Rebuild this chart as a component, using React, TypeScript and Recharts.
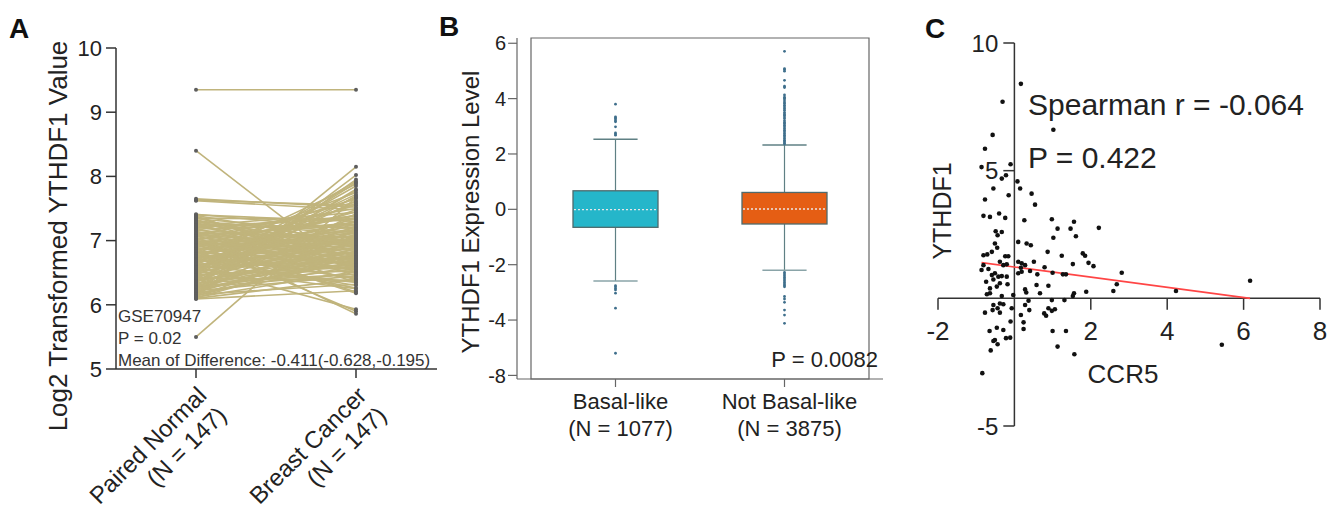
import React from 'react';
import {
  LineChart, Line, XAxis, YAxis, ComposedChart, Bar, ScatterChart, Scatter, ReferenceLine, ReferenceArea,
} from 'recharts';

// ---------- Panel A data ----------
const catsA = ['Paired Normal', 'Breast Cancer'];
const nLabelsA = ['(N = 147)', '(N = 147)'];
const ticksA = [5, 6, 7, 8, 9, 10];
const normalA = [9.35,8.40,7.65,7.63,7.62,5.50,7.05,6.95,6.60,
  6.12,6.15,6.20,6.35,6.50,6.45,6.30,6.70,6.80,6.25,6.55,6.90,6.40,7.00,6.65,6.85,7.10,6.75,6.18,6.95,7.20,6.60,7.35,7.40,
  7.38,7.32,7.30,7.28,7.25,7.22,7.18,7.15,7.12,7.08,7.06,7.02,7.00,6.98,6.96,6.94,6.92,6.90,6.88,6.86,6.84,6.82,6.80,6.78,6.76,6.74,6.72,6.70,6.68,6.66,6.64,6.62,6.60,6.58,6.56,6.54,6.52,6.50,6.48,6.46,6.44,6.42,6.40,6.38,6.36,6.34,6.32,6.30,6.28,6.26,6.24,6.22,6.20,6.18,6.16,6.14,6.12,6.10,6.09,
  7.39,7.36,7.34,7.31,7.27,7.24,7.21,7.19,7.16,7.13,7.11,7.09,7.07,7.04,7.01,6.99,6.97,6.93,6.91,6.89,6.87,6.83,6.81,6.79,6.77,6.73,6.71,6.69,6.67,6.63,6.61,6.59,6.57,6.53,6.51,6.47,6.43,6.39,6.37,6.33,6.29,6.27,6.23,6.21,6.17,6.13,6.11,
  7.41,7.37,7.29,7.23,6.99,6.76,6.52,6.35];
const cancerA = [9.35,6.48,7.52,7.55,7.48,7.67,5.86,5.90,5.93,
  8.15,8.02,7.95,7.90,7.92,7.85,7.80,7.88,7.75,7.70,7.72,7.65,7.62,7.60,7.58,7.55,7.50,7.45,7.42,7.40,7.38,7.35,7.33,7.30,
  6.55,6.90,7.10,6.45,7.20,6.80,7.25,6.35,7.05,6.95,7.28,6.60,6.20,7.15,6.85,7.00,6.50,7.22,6.75,7.12,6.40,6.98,7.08,6.65,7.30,6.88,6.30,7.02,6.72,7.18,6.58,6.92,7.26,6.68,6.25,7.06,6.82,6.52,7.14,6.62,6.95,6.38,7.04,6.70,6.87,6.48,7.10,6.78,6.56,6.99,6.66,6.45,6.84,6.60,6.32,6.74,6.52,6.40,6.22,
  6.97,6.70,7.12,6.62,6.90,6.76,7.34,6.58,7.00,6.86,6.68,7.24,6.52,6.92,7.36,6.64,7.06,6.80,7.16,6.55,6.96,7.40,6.70,7.08,6.42,6.94,7.20,6.60,6.82,7.48,6.35,7.02,6.74,7.30,6.90,6.58,7.13,6.78,7.22,6.64,6.98,6.48,7.06,6.88,6.68,7.00,6.80,
  7.18,6.62,6.95,7.44,6.18,6.26,7.68,7.78];

// ---------- Panel B data ----------
const catsB = ['Basal-like', 'Not Basal-like'];
const nLabelsB = ['(N = 1077)', '(N = 3875)'];
const q1B = [-0.65, -0.53];
const medianB = [-0.01, 0.01];
const q3B = [0.67, 0.61];
const whiskerLowB = [-2.59, -2.20];
const whiskerHighB = [2.53, 2.32];
const outliersBasal = [3.80, 3.34, 3.30, 3.26, 3.20, 3.16, 2.98, 2.76, 2.72, 2.68, -2.76, -2.80, -2.86, -2.91, -3.03, -3.57, -5.20];
const outliersNotBasal = [5.71, 5.08, 5.05, 4.99, 4.66, 4.45, 4.40, 4.13, 4.05, 4.01, 3.95, 3.88, 3.83, 3.76, 3.70, 3.64, 3.58, 3.50, 3.44, 3.40, 3.34, 3.28, 3.20, 3.14, 3.10, 3.04, 2.98, 2.92, 2.86, 2.80, 2.74, 2.68, 2.62, 2.56, 2.50, 2.45, 2.40, 2.36,
  -2.28, -2.34, -2.40, -2.46, -2.52, -2.58, -2.64, -2.70, -2.75, -2.80, -3.15, -3.24, -3.36, -3.64, -3.82, -4.12];
const outliersB = [outliersBasal, outliersNotBasal];
const ticksB = [-6, -4, -2, 0, 2, 4, 6];
const tickLabelsB = ['-8', '-4', '-2', '0', '2', '4', '6'];
const colorsB = ['#25B6CA', '#E55E14'];

// ---------- Panel C data ----------
const xsC = [0.17,-0.31,1.02,-0.57,-0.77,-0.86,-0.10,-0.22,-0.33,0.08,-0.55,0.15,0.45,-0.77,-0.15,0.54,-0.81,-0.64,-0.40,-0.24,0.26,0.98,1.56,1.13,1.47,2.21,-0.49,-0.44,-0.33,1.02,1.61,0.10,0.32,0.43,-0.51,0.87,-0.71,-0.59,-0.45,-0.24,-0.16,1.24,1.79,1.85,-0.81,-0.38,-0.29,-0.20,0.10,0.19,0.28,0.17,0.10,0.19,0.51,0.79,1.00,1.53,1.94,2.07,-0.81,-0.86,-0.68,-0.59,-0.51,-0.42,-0.33,-0.20,-0.55,-0.74,0.41,0.60,1.27,1.35,2.81,0.89,0.58,2.68,6.17,-0.64,-0.46,-0.38,-0.18,0.28,0.67,1.88,2.59,4.23,1.56,1.53,-0.72,-0.64,-0.33,-0.03,0.31,0.98,1.31,0.37,-0.55,-0.38,-0.44,-0.29,-0.77,-0.57,-0.38,-0.07,0.28,0.39,0.17,0.89,0.98,1.06,0.78,0.83,-0.10,0.24,0.24,-0.46,-0.65,-0.29,-0.11,-0.22,-0.51,-0.44,-0.55,1.00,1.35,-0.62,1.13,1.57,5.43,-0.84];
const ysC = [8.40,7.70,6.60,6.40,5.86,5.14,5.25,4.82,4.69,4.58,4.30,4.30,4.10,3.87,4.04,3.67,3.23,3.19,3.32,3.15,3.06,3.10,3.00,2.73,2.73,2.76,2.63,2.47,2.60,2.37,2.43,2.21,2.15,2.08,2.15,1.82,1.72,1.82,1.98,1.65,1.65,1.67,1.76,1.67,1.69,1.43,1.30,1.33,1.43,1.37,1.30,1.20,0.98,1.04,1.43,1.22,1.00,1.34,1.39,1.26,1.30,1.11,1.15,0.91,0.98,0.85,0.87,0.85,0.74,0.65,1.07,0.94,0.94,0.94,1.00,0.49,0.52,0.55,0.69,0.39,0.46,0.59,0.55,0.35,0.20,0.26,0.29,0.29,0.20,0.09,0.16,0.20,0.09,0.13,0.23,-0.07,-0.07,-0.09,-0.26,-0.20,-0.39,-0.23,-0.56,-0.46,-0.56,-0.39,-0.26,-0.46,-0.65,-0.39,-0.49,-0.43,-0.59,-0.68,-0.91,-0.94,-1.20,-1.15,-1.28,-1.24,-1.54,-1.56,-1.63,-1.80,-1.67,-1.28,-1.28,-2.04,-1.89,-2.19,-1.82,-2.93];
const fitXC = [-0.86, 6.17];
const fitYC = [1.40, 0.0];
const yTicksC = [10, 5, -5];
const xTicksC = [-2, 2, 4, 6, 8];

const FONT = 'Liberation Sans, Arial, Helvetica, sans-serif';
const W = 1338;
const H = 508;

const dataA = catsA.map((c, ci) => {
  const row: any = { cat: c };
  const src = ci === 0 ? normalA : cancerA;
  const n = Math.min(normalA.length, cancerA.length);
  for (let i = 0; i < n; i++) row['p' + i] = src[i];
  return row;
});
const pairCount = Math.min(normalA.length, cancerA.length);

const dataB = catsB.map((c, i) => ({
  cat: c, box: [q1B[i], q3B[i]], q1: q1B[i], q3: q3B[i], med: medianB[i], lo: whiskerLowB[i], hi: whiskerHighB[i], out: outliersB[i], idx: i,
}));

const dataC = xsC.map((x, i) => ({ x, y: ysC[i] }));

const TickA = (props: any) => {
  const { x, y, payload } = props;
  const i = catsA.indexOf(payload.value);
  return (
    <g transform={`translate(${x + 12},${y + 17})`}>
      <text transform="rotate(-45)" textAnchor="end" fontSize={24} fill="#222" fontFamily={FONT}>
        <tspan x={0} dy={0}>{catsA[i]}</tspan>
        <tspan x={0} dy={28}>{nLabelsA[i]}</tspan>
      </text>
    </g>
  );
};

const TickB = (props: any) => {
  const { x, y, payload } = props;
  const i = catsB.indexOf(payload.value);
  return (
    <text textAnchor="middle" fontSize={22} fill="#222" fontFamily={FONT}>
      <tspan x={x + 5} y={y + 20}>{catsB[i]}</tspan>
      <tspan x={x + 5} y={y + 47}>{nLabelsB[i]}</tspan>
    </text>
  );
};

const BoxShape = (props: any) => {
  const { x, y, width, height, payload } = props;
  const top = Math.min(y, y + height);
  const h = Math.abs(height);
  const pxPerUnit = h / (payload.q3 - payload.q1);
  const toY = (v: number) => top + (payload.q3 - v) * pxPerUnit;
  const cx = x + width / 2;
  const cap = width * 0.26;
  const color = colorsB[payload.idx];
  return (
    <g>
      <line x1={cx} x2={cx} y1={toY(payload.hi)} y2={toY(payload.q3)} stroke="#5f8084" strokeWidth={1.2} />
      <line x1={cx} x2={cx} y1={toY(payload.q1)} y2={toY(payload.lo)} stroke="#5f8084" strokeWidth={1.2} />
      <line x1={cx - cap} x2={cx + cap} y1={toY(payload.hi)} y2={toY(payload.hi)} stroke="#5f8084" strokeWidth={1.5} />
      <line x1={cx - cap} x2={cx + cap} y1={toY(payload.lo)} y2={toY(payload.lo)} stroke="#8aa4a8" strokeWidth={1.5} />
      <rect x={x} y={top} width={width} height={h} fill={color} stroke="#4f6a6c" strokeWidth={1.3} />
      <line x1={x + 1} x2={x + width - 1} y1={toY(payload.med)} y2={toY(payload.med)} stroke="#e8e8e8" strokeWidth={1.4} strokeDasharray="2 2" />
      {payload.out.map((v: number, k: number) => (
        <circle key={k} cx={cx} cy={toY(v)} r={1.4} fill="#3f6f8c" />
      ))}
    </g>
  );
};

const DotC = (props: any) => <circle cx={props.cx} cy={props.cy} r={2.3} fill="#111" />;

export default function App() {
  return (
    <div style={{ position: 'absolute', left: 0, top: 0, width: W, height: H, background: '#fff', fontFamily: FONT }}>
      {/* Panel A */}
      <div style={{ position: 'absolute', left: 0, top: 0 }}>
        <LineChart width={W} height={H} data={dataA} margin={{ top: 48, right: W - 437, bottom: H - 369 - 60, left: 116 - 60 }}>
          <XAxis dataKey="cat" height={60} padding={{ left: 80, right: 81 }} interval={0} tickSize={9}
            axisLine={{ stroke: '#333', strokeWidth: 1.5 }} tickLine={{ stroke: '#333', strokeWidth: 1.5 }} tick={<TickA />} />
          <YAxis width={60} domain={[5, 10]} ticks={ticksA} tickSize={10} tickMargin={4}
            axisLine={{ stroke: '#333', strokeWidth: 1.5 }} tickLine={{ stroke: '#333', strokeWidth: 1.5 }}
            tick={{ fontSize: 22, fill: '#222', fontFamily: FONT }} />
          {Array.from({ length: pairCount }, (_, i) => (
            <Line key={i} dataKey={'p' + i} stroke="#C0B47C" strokeWidth={1.6}
              dot={{ r: 2, fill: '#5e5e5e', stroke: 'none' }} activeDot={false} isAnimationActive={false} />
          ))}
        </LineChart>
      </div>

      {/* Panel B */}
      <div style={{ position: 'absolute', left: 0, top: 0 }}>
        <ComposedChart width={W} height={H} data={dataB} margin={{ top: 38, right: W - 883, bottom: H - 379 - 60, left: 517 - 60 }}>
          <XAxis dataKey="cat" height={60} padding={{ left: 14, right: 14 }} interval={0} tickSize={8}
            axisLine={{ stroke: '#666', strokeWidth: 1.2 }} tickLine={{ stroke: '#666', strokeWidth: 1.2 }} tick={<TickB />} />
          <YAxis width={60} domain={[-6.13, 6.19]} ticks={ticksB} allowDataOverflow tickSize={9}
            tickFormatter={(v: number) => tickLabelsB[ticksB.indexOf(v)]}
            axisLine={{ stroke: '#666', strokeWidth: 1.2 }} tickLine={{ stroke: '#666', strokeWidth: 1.2 }}
            tick={{ fontSize: 20, fill: '#222', fontFamily: FONT }} />
          <ReferenceArea y1={-6.13} y2={6.19} fill="none" fillOpacity={0} stroke="#666" strokeWidth={1.2} ifOverflow="visible" />
          <Bar dataKey="box" barSize={85} shape={<BoxShape />} isAnimationActive={false} />
        </ComposedChart>
      </div>

      {/* Panel C */}
      <div style={{ position: 'absolute', left: 0, top: 0 }}>
        <ScatterChart width={W} height={H} margin={{ top: 43, right: W - 1320, bottom: H - 426, left: 938 }}>
          <XAxis type="number" dataKey="x" domain={[-2, 8]} hide />
          <YAxis type="number" dataKey="y" domain={[-5, 10]} hide />
          <ReferenceLine x={0} stroke="#333" strokeWidth={1.5} ifOverflow="visible" />
          <ReferenceLine y={0} stroke="#333" strokeWidth={1.5} ifOverflow="visible" />
          {yTicksC.map((t) => (
            <ReferenceLine key={'yt' + t} segment={[{ x: -0.29, y: t }, { x: 0, y: t }]} stroke="#333" strokeWidth={1.5} ifOverflow="visible"
              label={{ value: String(t), position: 'left', offset: 5, fontSize: 24, fill: '#222', fontFamily: FONT }} />
          ))}
          {xTicksC.map((t) => (
            <ReferenceLine key={'xt' + t} segment={[{ x: t, y: 0 }, { x: t, y: -0.45 }]} stroke="#333" strokeWidth={1.5} ifOverflow="visible"
              label={{ value: String(t), position: 'bottom', offset: 12, fontSize: 26, fill: '#222', fontFamily: FONT }} />
          ))}
          <Scatter data={dataC} shape={<DotC />} isAnimationActive={false} />
          <ReferenceLine segment={[{ x: fitXC[0], y: fitYC[0] }, { x: fitXC[1], y: fitYC[1] }]} stroke="#FF4545" strokeWidth={1.6} ifOverflow="visible" />
        </ScatterChart>
      </div>

      {/* Text overlay */}
      <svg width={W} height={H} style={{ position: 'absolute', left: 0, top: 0, pointerEvents: 'none' }} fontFamily={FONT}>
        <text x={9} y={38} fontSize={28} fontWeight="bold" fill="#111">A</text>
        <text x={439} y={36} fontSize={28} fontWeight="bold" fill="#111">B</text>
        <text x={925} y={38} fontSize={28} fontWeight="bold" fill="#111">C</text>

        <text transform="translate(67,236) rotate(-90)" textAnchor="middle" fontSize={26} fill="#222">Log2 Transformed YTHDF1 Value</text>
        <text x={118} y={322} fontSize={17} fill="#333">GSE70947</text>
        <text x={118} y={344} fontSize={17} fill="#333">P = 0.02</text>
        <text x={118} y={366} fontSize={17} fill="#333">Mean of Difference: -0.411(-0.628,-0.195)</text>

        <text transform="translate(479,212) rotate(-90)" textAnchor="middle" fontSize={24} fill="#222">YTHDF1 Expression Level</text>
        <text x={878} y={367} textAnchor="end" fontSize={22} fill="#222">P = 0.0082</text>

        <text transform="translate(951,211) rotate(-90)" textAnchor="middle" fontSize={25} fill="#222">YTHDF1</text>
        <text x={1123} y={383} textAnchor="middle" fontSize={26} fill="#222">CCR5</text>
        <text x={1028} y={115} fontSize={30} fill="#222">Spearman r = -0.064</text>
        <text x={1028} y={168} fontSize={30} fill="#222">P = 0.422</text>
      </svg>
    </div>
  );
}
